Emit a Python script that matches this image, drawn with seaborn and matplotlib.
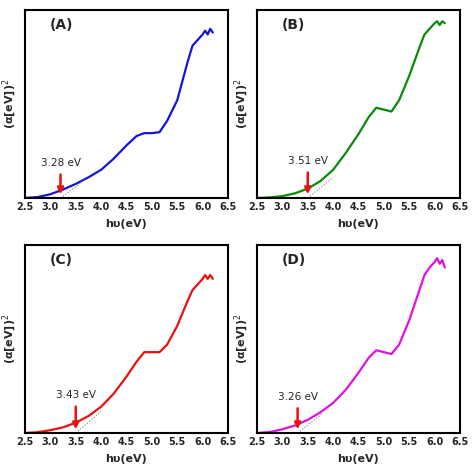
import numpy as np
import matplotlib
matplotlib.use("Agg")
import matplotlib.pyplot as plt
import seaborn as sns
import pandas as pd

sns.set_style("white")
plt.rcParams['font.family'] = ['DejaVu Sans']

x_a = [2.5, 2.75, 3.0, 3.25, 3.5, 3.75, 4.0, 4.25, 4.5, 4.7, 4.85, 5.0, 5.15, 5.3, 5.5, 5.7, 5.8, 5.9, 6.0, 6.05, 6.1, 6.15, 6.2]
y_a = [0.0, 0.005, 0.02, 0.045, 0.075, 0.11, 0.15, 0.21, 0.28, 0.33, 0.345, 0.345, 0.35, 0.41, 0.52, 0.72, 0.81, 0.84, 0.87, 0.89, 0.87, 0.9, 0.88]
x_b = [2.5, 2.75, 3.0, 3.25, 3.5, 3.75, 4.0, 4.25, 4.5, 4.7, 4.85, 5.0, 5.15, 5.3, 5.5, 5.7, 5.8, 5.9, 6.0, 6.05, 6.1, 6.15, 6.2]
y_b = [0.0, 0.003, 0.01, 0.025, 0.05, 0.09, 0.15, 0.24, 0.34, 0.43, 0.48, 0.47, 0.46, 0.52, 0.65, 0.8, 0.87, 0.9, 0.93, 0.94, 0.92, 0.94, 0.93]
x_c = [2.5, 2.75, 3.0, 3.25, 3.5, 3.75, 4.0, 4.25, 4.5, 4.7, 4.85, 5.0, 5.15, 5.3, 5.5, 5.7, 5.8, 5.9, 6.0, 6.05, 6.1, 6.15, 6.2]
y_c = [0.0, 0.004, 0.015, 0.03, 0.055, 0.09, 0.14, 0.21, 0.3, 0.38, 0.43, 0.43, 0.43, 0.47, 0.57, 0.7, 0.76, 0.79, 0.82, 0.84, 0.82, 0.84, 0.82]
x_d = [2.5, 2.75, 3.0, 3.25, 3.5, 3.75, 4.0, 4.25, 4.5, 4.7, 4.85, 5.0, 5.15, 5.3, 5.5, 5.7, 5.8, 5.9, 6.0, 6.05, 6.1, 6.15, 6.2]
y_d = [0.0, 0.005, 0.02, 0.04, 0.07, 0.11, 0.16, 0.23, 0.32, 0.4, 0.44, 0.43, 0.42, 0.47, 0.6, 0.76, 0.84, 0.88, 0.91, 0.93, 0.9, 0.92, 0.88]

labels = ["(A)", "(B)", "(C)", "(D)"]
colors = ["#1515d8", "#0a8a0a", "#e81010", "#e010e0"]
gap_text = ["3.28 eV", "3.51 eV", "3.43 eV", "3.26 eV"]
gap_x = [3.2, 3.5, 3.5, 3.3]
xs = [x_a, x_b, x_c, x_d]
ys = [y_a, y_b, y_c, y_d]
ticks = [2.5, 3.0, 3.5, 4.0, 4.5, 5.0, 5.5, 6.0, 6.5]

fig = plt.figure(figsize=(4.74, 4.70), dpi=100)
boxes = [(25, 10), (257, 10), (25, 245), (257, 245)]
W, H = 474, 470
for i in range(4):
    l, t = boxes[i]
    ax = fig.add_axes([l / W, 1 - (t + 188) / H, 203 / W, 188 / H])
    df = pd.DataFrame({"x": xs[i], "y": ys[i]})
    sns.lineplot(data=df, x="x", y="y", ax=ax, color=colors[i], lw=1.6)
    ax.set_xlim(2.5, 6.5)
    ax.set_ylim(0, 1)
    ax.set_xticks(ticks)
    ax.set_xticklabels([f"{t:.1f}" for t in ticks], fontsize=7, fontweight="bold")
    ax.set_yticks([])
    ax.tick_params(axis="x", length=0, pad=3)
    for s in ax.spines.values():
        s.set_linewidth(1.5)
        s.set_color("black")
    ax.set_xlabel("hυ(eV)", fontsize=8, fontweight="bold", labelpad=5)
    ax.set_ylabel("(α[eV])$^2$", fontsize=8, fontweight="bold")
    ax.text(0.12, 0.9, labels[i], transform=ax.transAxes, fontsize=10, fontweight="bold")
    gx = gap_x[i]
    yv = float(np.interp(gx, xs[i], ys[i]))
    ax.plot([gx, gx + 0.5], [0.0, yv + 0.06], ls=":", color="gray", lw=0.8)
    ax.annotate("", xy=(gx, 0.005), xytext=(gx, yv + 0.1),
                arrowprops=dict(arrowstyle="-|>", color="#e81010", lw=1.8, mutation_scale=9))
    ax.text(gx, yv + 0.13, gap_text[i], ha="center", fontsize=7.5)

fig.savefig("out.png", dpi=100)
